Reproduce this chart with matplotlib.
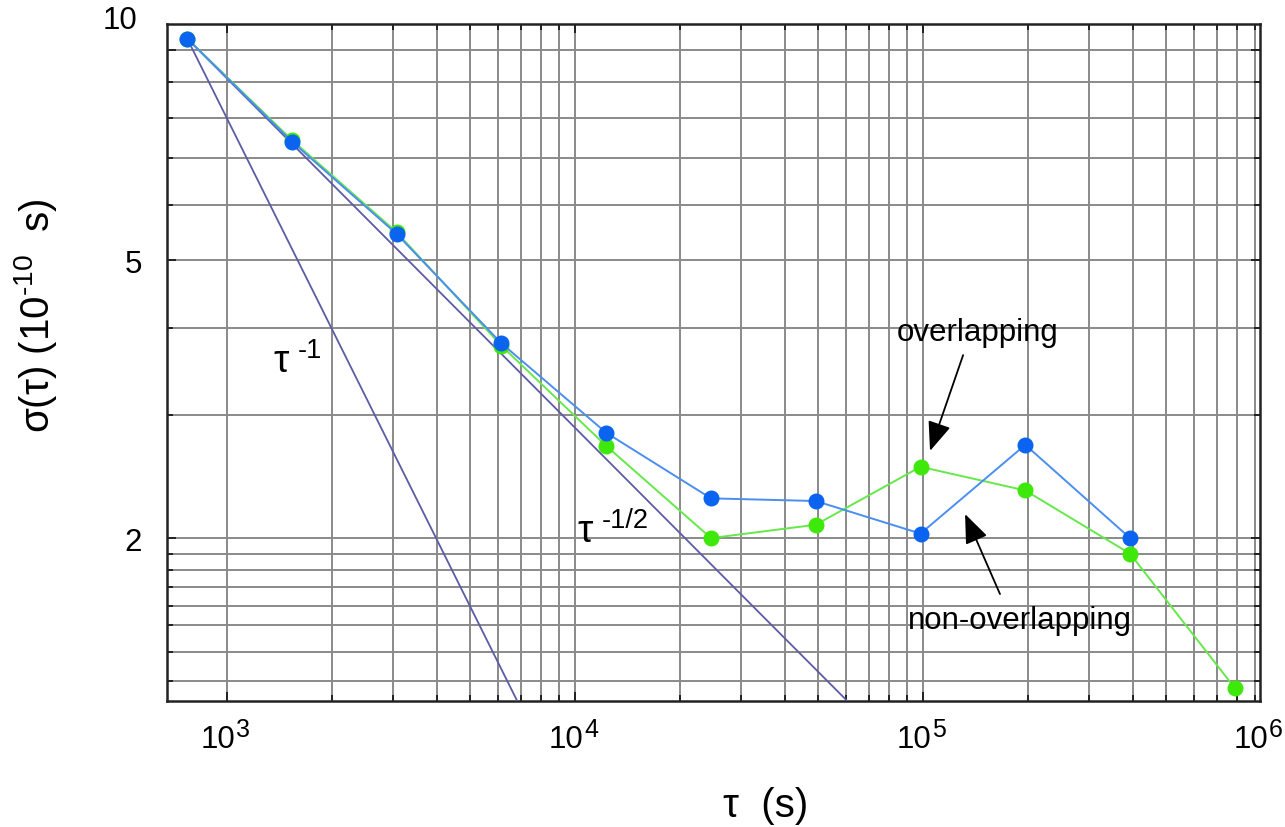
import numpy as np
import matplotlib
matplotlib.use('Agg')
import matplotlib.pyplot as plt
from matplotlib.ticker import FixedLocator, FixedFormatter, NullFormatter

plt.rcParams['font.family'] = ['Liberation Sans', 'DejaVu Sans']
plt.rcParams['mathtext.fontset'] = 'custom'
plt.rcParams['mathtext.rm'] = 'Liberation Sans'
plt.rcParams['mathtext.it'] = 'Liberation Sans'
plt.rcParams['mathtext.sf'] = 'Liberation Sans'

# averaging times (s) and deviations (1e-10 s)
tau = [768, 1536, 3072, 6144, 12288, 24576, 49152, 98304, 196608, 393216, 786432]
sigma_nonoverlap = [10.38, 7.39, 5.45, 3.80, 2.83, 2.28, 2.26, 2.03, 2.72, 2.00]
sigma_overlap = [10.38, 7.43, 5.48, 3.77, 2.71, 2.00, 2.09, 2.53, 2.34, 1.90, 1.22]

xlim = (672, 9.29e5)
ylim = (1.169, 10.89)

x_major = [1e3, 1e4, 1e5]
x_minor = [m * 10 ** d for d in (3, 4, 5) for m in range(2, 10)]
# decade labels; the last one is put on the right end of the axis
x_label_pos = [1e3, 1e4, 1e5, xlim[1]]
x_label_exp = ['3', '4', '5', '6']
y_major = [2, 5, 10]
y_major_labels = ['2', '5', '']
y_minor = [1.25, 1.375, 1.5, 1.6, 1.7, 1.8, 1.9, 3, 4, 6, 7, 8, 9]

blue_line, blue_dot = '#4a8ef0', '#0a64f0'
green_line, green_dot = '#66e84a', '#3ee80a'
slope_color = '#5c5ca4'

fig = plt.figure(figsize=(12.85, 8.28), dpi=100)
ax = fig.add_axes([167 / 1285, 1 - 702 / 828, (1260 - 167) / 1285, (702 - 25) / 828])
ax.set_xscale('log')
ax.set_yscale('log')
ax.set_xlim(*xlim)
ax.set_ylim(*ylim)

# slope guides through the first point
t0, s0 = tau[0], sigma_overlap[0]
t_end = np.array([t0, xlim[1]])
ax.plot(t_end, s0 * (t0 / t_end), color=slope_color, lw=1.3, zorder=3)
ax.plot(t_end, s0 * np.sqrt(t0 / t_end), color=slope_color, lw=1.3, zorder=3)

ax.plot(tau[:len(sigma_overlap)], sigma_overlap, '-o', color=green_line, lw=1.4,
        markerfacecolor=green_dot, markeredgecolor=green_dot, markersize=10.5, zorder=4)
ax.plot(tau[:len(sigma_nonoverlap)], sigma_nonoverlap, '-o', color=blue_line, lw=1.4,
        markerfacecolor=blue_dot, markeredgecolor=blue_dot, markersize=10.5, zorder=5)

# ticks and grid
ax.xaxis.set_major_locator(FixedLocator(x_major))
ax.xaxis.set_major_formatter(NullFormatter())
ax.xaxis.set_minor_locator(FixedLocator(x_minor))
ax.xaxis.set_minor_formatter(NullFormatter())
ax.yaxis.set_major_locator(FixedLocator(y_major))
ax.yaxis.set_major_formatter(FixedFormatter(y_major_labels))
ax.yaxis.set_minor_locator(FixedLocator(y_minor))
ax.yaxis.set_minor_formatter(NullFormatter())

ax.tick_params(which='both', direction='in', top=True, right=True, width=1.4,
               color='#222222', labelsize=22.5)
ax.tick_params(which='major', length=6.5)
ax.tick_params(which='minor', length=4)
ax.tick_params(axis='y', which='major', pad=18)
ax.grid(True, which='both', color='#8a8a8a', lw=1.4)
ax.set_axisbelow(True)
for sp in ax.spines.values():
    sp.set_linewidth(1.8)
    sp.set_color('#222222')

for pos, exp in zip(x_label_pos, x_label_exp):
    ax.annotate('10', xy=(pos, 0), xycoords=('data', 'axes fraction'), xytext=(6, -33),
                textcoords='offset points', ha='right', va='baseline', fontsize=22.5)
    ax.annotate(exp, xy=(pos, 0), xycoords=('data', 'axes fraction'), xytext=(6.5, -25),
                textcoords='offset points', ha='left', va='baseline', fontsize=18)

# top label sits on the upper end of the axis
ax.annotate('10', xy=(0, 1), xycoords='axes fraction', xytext=(-21, 3),
            textcoords='offset points', ha='right', va='center', fontsize=22.5)

# slope labels
for x, y, sup in [(1355, 3.467, '-1'), (1.013e4, 1.98, '-1/2')]:
    ax.text(x, y, 'τ', fontsize=28, ha='left', va='baseline', zorder=6)
    ax.annotate(sup, xy=(x, y), xytext=(17.5, 10), textcoords='offset points',
                fontsize=19.5, ha='left', va='baseline', zorder=6)

arrow = dict(arrowstyle='-|>,head_length=0.5,head_width=0.2', color='black', lw=1.3,
             mutation_scale=36, shrinkA=0, shrinkB=0)
ax.text(1.438e5, 3.945, 'overlapping', fontsize=22.5, ha='center', va='center', zorder=6)
ax.annotate('', xy=(1.047e5, 2.666), xytext=(1.303e5, 3.656), arrowprops=arrow, zorder=6)
ax.text(1.90e5, 1.526, 'non-overlapping', fontsize=22.5, ha='center', va='center', zorder=6)
ax.annotate('', xy=(1.32e5, 2.165), xytext=(1.663e5, 1.663), arrowprops=arrow, zorder=6)

fig.text(766 / 1285, 1 - 806 / 828, 'τ  (s)', fontsize=29, ha='center', va='center')
fig.text(36 / 1285, 1 - 316 / 828, r'σ(τ) (10$^{\text{-10}}$  s)', fontsize=29,
         rotation=90, ha='center', va='center')

fig.savefig('out.png', dpi=100)
